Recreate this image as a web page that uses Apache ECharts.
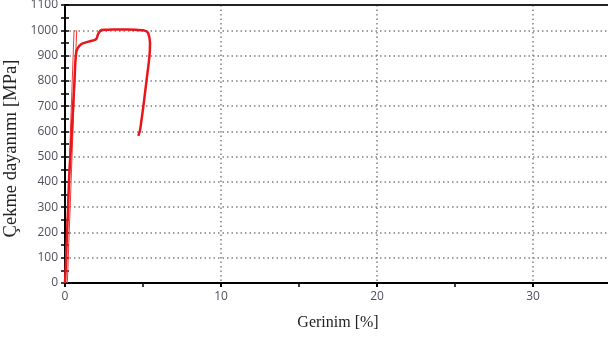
<!DOCTYPE html>
<html><head><meta charset="utf-8">
<script src="https://cdn.jsdelivr.net/npm/echarts@6/dist/echarts.min.js"></script>
<style>html,body{margin:0;padding:0;background:#fff}#c{width:608px;height:341px}</style>
</head><body><div id="c"></div>
<script>
// Main tensile curve: strain [%] and stress [MPa]
const strain = [0, 0.05, 0.1, 0.2, 0.26, 0.4, 0.5, 0.61, 0.66, 0.72, 0.81, 1.07, 1.5, 1.92, 2.03, 2.14, 2.35, 2.6, 3.0, 3.5, 4.0, 4.5, 5.0, 5.2, 5.34, 5.45, 5.41, 5.23, 5.02, 4.81, 4.70];
const stress = [0, 60, 150, 300, 408, 560, 680, 803, 870, 912, 929, 946, 955, 962, 968, 988, 1001, 1002, 1003, 1003, 1003, 1002, 1000, 996, 988, 949, 895, 803, 698, 605, 582];
// Thin elastic reference lines
const refA_strain = [0, 0.58];
const refA_stress = [0, 1000];
const refB_strain = [0.15, 0.75];
const refB_stress = [0, 1000];
// Axis tick labels
const xTicks = [0, 10, 20, 30];
const yTicks = [0, 100, 200, 300, 400, 500, 600, 700, 800, 900, 1000, 1100];

const zip = (a, b) => a.map((v, i) => [v, b[i]]);
const chart = echarts.init(document.getElementById('c'));
const labelFont = { color: '#505060', fontFamily: 'Open Sans', fontSize: 12 };
const dotted = { color: '#808080', width: 1.5, type: [1.5, 3] };
chart.setOption({
  animation: false,
  grid: { left: 65, right: -3, top: 5, bottom: 58, outerBoundsMode: 'none', containLabel: false },
  xAxis: [{
    type: 'value', min: 0, max: 35, interval: 10,
    axisLine: { lineStyle: { color: '#000', width: 2 } },
    axisTick: { show: true, length: 4, lineStyle: { color: '#000', width: 2 } },
    minorTick: { show: true, splitNumber: 2, length: 4, lineStyle: { color: '#000', width: 1.5 } },
    axisLabel: Object.assign({ margin: 8, formatter: v => xTicks.includes(v) ? String(v) : '' }, labelFont),
    splitLine: { show: true, lineStyle: dotted },
    name: 'Gerinim [%]', nameLocation: 'middle', nameGap: 32,
    nameTextStyle: { fontFamily: 'Liberation Serif', fontSize: 16, color: '#222' }
  }, {
    type: 'value', min: 0, max: 35, interval: 10, position: 'top',
    axisLine: { show: true, onZero: false, lineStyle: { color: '#222', width: 2 } },
    axisTick: { show: false }, axisLabel: { show: false }, splitLine: { show: false }
  }],
  yAxis: [{
    type: 'value', min: 0, max: 1100, interval: 100,
    axisLine: { show: true, lineStyle: { color: '#000', width: 2 } },
    axisTick: { show: true, length: 4, lineStyle: { color: '#000', width: 1.5 } },
    minorTick: { show: true, splitNumber: 2, length: 4, lineStyle: { color: '#000', width: 1.5 } },
    axisLabel: Object.assign({ margin: 7, formatter: v => yTicks.includes(v) ? String(v) : '' }, labelFont),
    splitLine: { show: true, lineStyle: dotted },
    name: 'Çekme dayanımı [MPa]', nameLocation: 'middle', nameGap: 44, nameMoveOverlap: false,
    nameTextStyle: { fontFamily: 'Liberation Serif', fontSize: 18.5, color: '#222', padding: [0, 9, 0, 0] }
  }, {
    type: 'value', min: 0, max: 1100, interval: 100, position: 'left',
    axisLine: { show: false },
    axisTick: { show: true, inside: true, length: 4, lineStyle: { color: '#000', width: 1.5 } },
    minorTick: { show: true, splitNumber: 2, length: 4, lineStyle: { color: '#000', width: 1.5 } },
    axisLabel: { show: false }, splitLine: { show: false }
  }],
  series: [{
    type: 'line', data: zip(refA_strain, refA_stress), showSymbol: false,
    lineStyle: { color: '#f03a3a', width: 1 }, z: 3
  }, {
    type: 'line', data: zip(refB_strain, refB_stress), showSymbol: false,
    lineStyle: { color: '#f03a3a', width: 1 }, z: 3
  }, {
    type: 'line', data: zip(strain, stress), showSymbol: false, smooth: 0.2,
    lineStyle: { color: '#e8161b', width: 2.5 }, z: 4
  }]
});
</script></body></html>
